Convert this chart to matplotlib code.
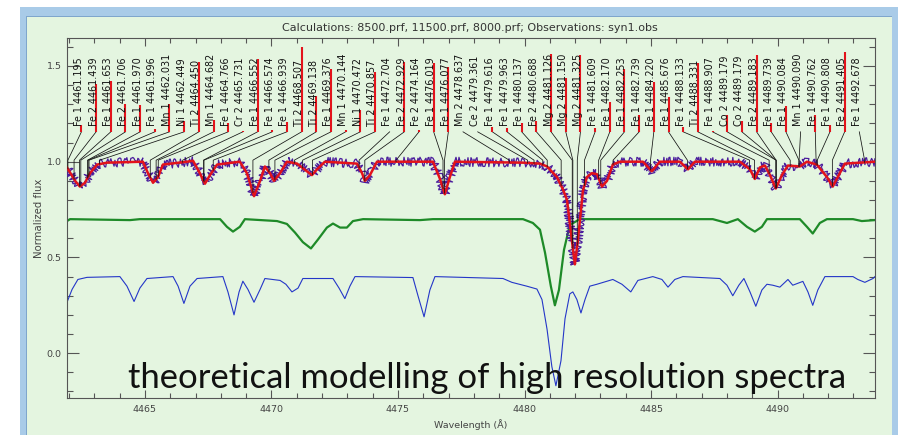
import numpy as np
import matplotlib
matplotlib.use("Agg")
import matplotlib.pyplot as plt
from matplotlib.patches import Rectangle
from matplotlib.ticker import MultipleLocator

# line identifications (species, rest wavelength, strength bar length in flux units)
species = ["Fe 1", "Fe 2", "Fe 1", "Fe 2", "Fe 1", "Fe 1", "Mn 1", "Ni 1", "Ti 2", "Mn 1",
           "Fe 1", "Cr 2", "Fe 1", "Fe 1", "Fe 1", "Ti 2", "Ti 2", "Fe 1", "Mn 1", "Ni 1",
           "Ti 2", "Fe 1", "Fe 2", "Fe 2", "Fe 1", "Fe 1", "Mn 2", "Ce 2", "Fe 1", "Fe 1",
           "Fe 1", "Fe 2", "Mg 2", "Mg 2", "Mg 2", "Fe 1", "Fe 1", "Fe 1", "Fe 1", "Fe 1",
           "Fe 1", "Fe 1", "Ti 2", "Fe 1", "Co 2", "Co 2", "Fe 2", "Fe 1", "Fe 1", "Mn 1",
           "Fe 1", "Fe 1", "Fe 2", "Fe 1"]
line_wave = [4461.195, 4461.439, 4461.653, 4461.706, 4461.970, 4461.996, 4462.031, 4462.449,
             4464.450, 4464.682, 4464.766, 4465.731, 4466.552, 4466.574, 4466.939, 4468.507,
             4469.138, 4469.376, 4470.144, 4470.472, 4470.857, 4472.704, 4472.929, 4474.164,
             4476.019, 4476.077, 4478.637, 4479.361, 4479.616, 4479.963, 4480.137, 4480.688,
             4481.126, 4481.150, 4481.325, 4481.609, 4482.170, 4482.253, 4482.739, 4484.220,
             4485.676, 4488.133, 4488.331, 4488.907, 4489.179, 4489.179, 4489.183, 4489.739,
             4490.084, 4490.090, 4490.762, 4490.808, 4491.405, 4492.678]
strength = [0.036, 0.25, 0.266, 0.146, 0.14, 0.016, 0.146, 0.057, 0.365, 0.062,
            0.047, 0.005, 0.38, 0.01, 0.052, 0.443, 0.188, 0.33, 0.01, 0.115,
            0.312, 0.0, 0.365, 0.01, 0.36, 0.34, 0.0, 0.0, 0.026, 0.02,
            0.047, 0.057, 0.406, 0.28, 0.40, 0.02, 0.156, 0.328, 0.089, 0.26,
            0.18, 0.026, 0.36, 0.005, 0.089, 0.057, 0.40, 0.047, 0.135, 0.0,
            0.089, 0.036, 0.417, 0.0]
SHIFT = 0.76  # observed / fitted spectrum sits ~0.76 A redward of rest wavelengths

# fitted synthetic spectrum (red) - the observation follows it
fit_wave = [4461.92, 4462.24, 4462.43, 4462.63, 4462.83, 4463.11, 4463.50, 4464.92, 4465.12,
            4465.32, 4465.52, 4465.71, 4466.66, 4466.90, 4467.17, 4467.37, 4467.57, 4467.85,
            4468.75, 4469.03, 4469.31, 4469.55, 4469.74, 4469.94, 4470.10, 4470.34, 4470.61,
            4471.01, 4471.40, 4471.60, 4471.80, 4472.11, 4473.38, 4473.58, 4473.69, 4473.89,
            4474.17, 4476.38, 4476.66, 4476.85, 4477.05, 4477.25, 4479.94, 4480.61, 4480.89,
            4481.28, 4481.52, 4481.68, 4481.87, 4481.99, 4482.11, 4482.31, 4482.47, 4482.66,
            4482.86, 4483.06, 4483.26, 4483.49, 4483.77, 4484.68, 4485.03, 4485.35, 4486.14,
            4486.46, 4486.73, 4488.51, 4488.91, 4489.10, 4489.30, 4489.50, 4489.70, 4489.93,
            4490.17, 4490.41, 4490.88, 4491.16, 4491.55, 4491.95, 4492.18, 4492.46, 4492.66,
            4493.85]
fit_flux = [0.97, 0.90, 0.87, 0.89, 0.94, 0.985, 0.995, 1.0, 0.94,
            0.89, 0.92, 0.985, 1.0, 1.005, 0.94, 0.885, 0.93, 0.985,
            1.0, 0.94, 0.82, 0.90, 0.975, 0.94, 0.90, 0.94, 1.0,
            0.99, 0.95, 0.93, 0.96, 1.0, 0.99, 0.94, 0.90, 0.93,
            1.0, 1.0, 0.91, 0.83, 0.92, 1.0, 0.995, 0.99, 0.975,
            0.92, 0.855, 0.80, 0.59, 0.464, 0.59, 0.85, 0.92, 0.94,
            0.935, 0.87, 0.90, 0.985, 1.0, 1.0, 0.95, 1.0, 1.0,
            0.96, 1.0, 1.0, 0.96, 0.91, 0.97, 0.98, 0.93, 0.86,
            0.93, 0.98, 0.975, 1.0, 0.985, 0.92, 0.87, 0.94, 0.99,
            1.0]

# second model (green, offset to ~0.7)
green_wave = [4461.92, 4462.04, 4464.41, 4464.80, 4467.97, 4468.24, 4468.48, 4468.75, 4468.95,
              4470.22, 4470.61, 4470.93, 4471.24, 4471.56, 4471.84, 4472.19, 4472.43, 4472.71,
              4472.98, 4473.22, 4473.62, 4475.87, 4476.38, 4479.94, 4480.33, 4480.61, 4480.81,
              4481.04, 4481.20, 4481.36, 4481.56, 4481.79, 4482.19, 4487.44, 4488.00, 4488.43,
              4488.79, 4489.10, 4489.38, 4489.58, 4490.88, 4491.16, 4491.39, 4491.67, 4491.95,
              4492.98, 4493.33, 4493.85]
green_flux = [0.69, 0.70, 0.695, 0.70, 0.70, 0.66, 0.635, 0.66, 0.70,
              0.69, 0.675, 0.63, 0.58, 0.547, 0.594, 0.656, 0.677, 0.656,
              0.656, 0.69, 0.70, 0.695, 0.70, 0.70, 0.68, 0.645, 0.525,
              0.35, 0.25, 0.33, 0.54, 0.67, 0.70, 0.70, 0.68, 0.70,
              0.66, 0.635, 0.66, 0.70, 0.70, 0.66, 0.625, 0.68, 0.70,
              0.70, 0.69, 0.695]

# third model (blue, offset to ~0.4)
blue_wave = [4461.92, 4462.12, 4462.35, 4462.71, 4464.01, 4464.29, 4464.57, 4464.80, 4465.08,
             4466.11, 4466.31, 4466.54, 4466.78, 4467.06, 4468.08, 4468.28, 4468.52, 4468.72,
             4468.87, 4469.07, 4469.31, 4469.55, 4469.74, 4470.34, 4470.57, 4470.81, 4471.05,
             4471.24, 4472.43, 4472.67, 4472.90, 4473.10, 4473.30, 4475.59, 4475.79, 4476.03,
             4476.26, 4476.46, 4479.15, 4479.50, 4480.09, 4480.49, 4480.69, 4480.89, 4481.08,
             4481.24, 4481.44, 4481.60, 4481.79, 4481.91, 4482.07, 4482.23, 4482.39, 4482.58,
             4482.86, 4483.49, 4483.85, 4484.20, 4484.48, 4485.07, 4485.43, 4485.67, 4485.94,
             4486.26, 4487.72, 4488.00, 4488.23, 4488.47, 4488.67, 4488.91, 4489.14, 4489.38,
             4489.58, 4489.81, 4490.09, 4490.41, 4490.60, 4491.00, 4491.20, 4491.39, 4491.59,
             4491.87, 4492.98, 4493.17, 4493.45, 4493.77, 4493.85]
blue_flux = [0.266, 0.333, 0.385, 0.396, 0.40, 0.35, 0.27, 0.34, 0.39,
             0.40, 0.35, 0.26, 0.35, 0.39, 0.40, 0.32, 0.20, 0.32,
             0.376, 0.333, 0.266, 0.333, 0.39, 0.38, 0.36, 0.32, 0.34,
             0.39, 0.39, 0.34, 0.285, 0.35, 0.40, 0.395, 0.30, 0.19,
             0.33, 0.40, 0.39, 0.37, 0.35, 0.335, 0.28, 0.125, -0.07,
             -0.17, -0.04, 0.18, 0.31, 0.32, 0.28, 0.21, 0.28, 0.35,
             0.36, 0.385, 0.36, 0.32, 0.38, 0.40, 0.385, 0.345, 0.385,
             0.40, 0.39, 0.355, 0.30, 0.355, 0.39, 0.32, 0.245, 0.33,
             0.36, 0.355, 0.345, 0.385, 0.355, 0.375, 0.32, 0.25, 0.33,
             0.40, 0.40, 0.385, 0.37, 0.39, 0.40]

BG = "#e4f5e0"
FRAME = "#a9cbe8"
RED = "#e3131b"
OBS = "#4a1c9c"
GREEN = "#1e8a28"
BLUE = "#2436c8"

W, H = 899, 438
fig = plt.figure(figsize=(W / 100, H / 100), dpi=100)

# window frame + pale green panel (pixel boxes -> figure fractions)
def px_box(x0, y0, x1, y1, **kw):
    fig.add_artist(Rectangle((x0 / W, 1 - y1 / H), (x1 - x0) / W, (y1 - y0) / H,
                             transform=fig.transFigure, zorder=-10, **kw))

px_box(20, 7, 898, 435, facecolor=FRAME, edgecolor="none")
px_box(26, 16, 892, 435, facecolor="#7fa6cc", edgecolor="none")
px_box(27, 17, 892, 435, facecolor=BG, edgecolor="none")

ax = fig.add_axes([67 / W, 1 - 398 / H, (875 - 67) / W, (398 - 38) / H])
ax.set_facecolor("none")

ax.plot(blue_wave, blue_flux, color=BLUE, lw=0.8, zorder=2)
ax.plot(green_wave, green_flux, color=GREEN, lw=1.6, zorder=2)
obs, = ax.plot(fit_wave, fit_flux, color=OBS, lw=0.9, zorder=3)
obs.set_sketch_params(scale=4.5, length=1.3, randomness=10.0)  # noisy look of the observation
ax.plot(fit_wave, fit_flux, color=RED, lw=1.8, zorder=4)

# line ids: evenly spread labels, strength bars, leaders to shifted line position
n = len(species)
label_pos = np.linspace(4462.39, 4493.13, n)
BAR0 = 1.156
for i in range(n):
    lx = label_pos[i]
    bx = lx + 0.1
    tx = line_wave[i] + SHIFT
    y_end = np.interp(tx, fit_wave, fit_flux)
    ax.plot([bx, tx, tx], [BAR0, 1.008, y_end], color="#111", lw=0.55, zorder=5)
    if strength[i] > 0:
        ax.plot([bx, bx], [BAR0, BAR0 + strength[i]], color=RED, lw=1.5,
                solid_capstyle="butt", zorder=6)
    ax.text(lx, 1.185, f"{species[i]} {line_wave[i]:.3f}", rotation=90,
            ha="center", va="bottom", fontsize=6.9, color="#111", zorder=6)

ax.set_xlim(4461.92, 4493.85)
ax.set_ylim(-0.234, 1.646)
ax.xaxis.set_major_locator(MultipleLocator(5))
ax.xaxis.set_minor_locator(MultipleLocator(1))
ax.yaxis.set_major_locator(MultipleLocator(0.5))
ax.yaxis.set_minor_locator(MultipleLocator(0.1))
ax.yaxis.set_major_formatter(plt.FormatStrFormatter("%.1f"))
ax.tick_params(which="both", direction="in", top=True, right=True,
               colors="#555", labelcolor="#444", labelsize=6.8, width=0.8)
ax.tick_params(axis="x", which="major", length=5.5, pad=5)
ax.tick_params(axis="x", which="minor", length=3.6)
ax.tick_params(axis="y", which="major", length=8.4, pad=4)
ax.tick_params(axis="y", which="minor", length=4.3)
for s in ax.spines.values():
    s.set_color("#555")
    s.set_linewidth(0.8)

ax.set_xlabel("Wavelength (Å)", fontsize=6.8, color="#444", labelpad=4)
ax.set_ylabel("Normalized flux", fontsize=7.3, color="#444", labelpad=2)

fig.text(470 / W, 1 - 28 / H,
         "Calculations: 8500.prf, 11500.prf, 8000.prf; Observations: syn1.obs",
         ha="center", va="center", fontsize=8, color="#333")

fig.text(128 / W, 1 - 388 / H, "theoretical modelling of high resolution spectra",
         ha="left", va="baseline", fontsize=24.9, family="Lato", color="#111")

fig.savefig("out.png", dpi=100, facecolor="white")
